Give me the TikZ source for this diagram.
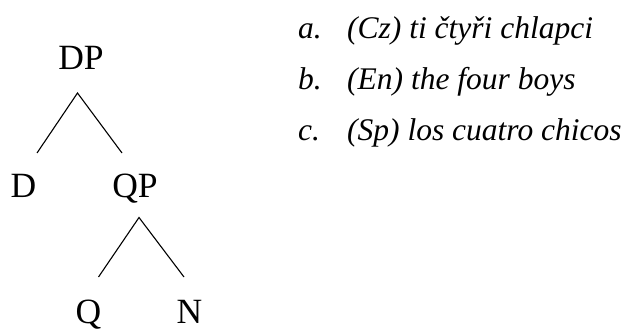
\documentclass[tikz,border=0pt]{standalone}
\usepackage{fontspec}
\setmainfont{Liberation Serif}[ItalicFont={Liberation Serif Italic}]
\usetikzlibrary{positioning}

\tikzset{
  cat/.style={anchor=base, inner sep=0pt, font=\fontsize{35.5}{40}\selectfont},
  item/.style={anchor=base west, inner sep=0pt, font=\fontsize{31.5}{36}\selectfont\itshape},
  branch/.style={line width=1.1pt}
}

\begin{document}
\begin{tikzpicture}[x=1pt,y=-1pt]
	\useasboundingbox (0,0) rectangle (629,331);
	% tree
	\node[cat] (dp) at (81,70) {DP};
	\node[cat] (d) at (23.5,198) {D};
	\node[cat] (qp) at (135,198) {QP};
	\node[cat] (q) at (88.5,323) {Q};
	\node[cat] (n) at (189.5,323) {N};
	\coordinate (dp-foot) at (77.5,93);
	\coordinate (d-head) at (37,153);
	\coordinate (qp-head) at (122,153);
	\coordinate (qp-foot) at (139,217.5);
	\coordinate (q-head) at (98.5,277);
	\coordinate (n-head) at (184,277);
	\draw[branch] (d-head) -- (dp-foot) -- (qp-head);
	\draw[branch] (q-head) -- (qp-foot) -- (n-head);
	% examples
	\node[item] (ex-a) at (298,39) {a.};
	\node[item] (ex-b) at (298,90) {b.};
	\node[item] (ex-c) at (298,141) {c.};
	\node[item] (gl-a) at (347,39) {(Cz) ti čtyři chlapci};
	\node[item] (gl-b) at (347,90) {(En) the four boys};
	\node[item] (gl-c) at (347,141) {(Sp) los cuatro chicos};
\end{tikzpicture}
\end{document}
